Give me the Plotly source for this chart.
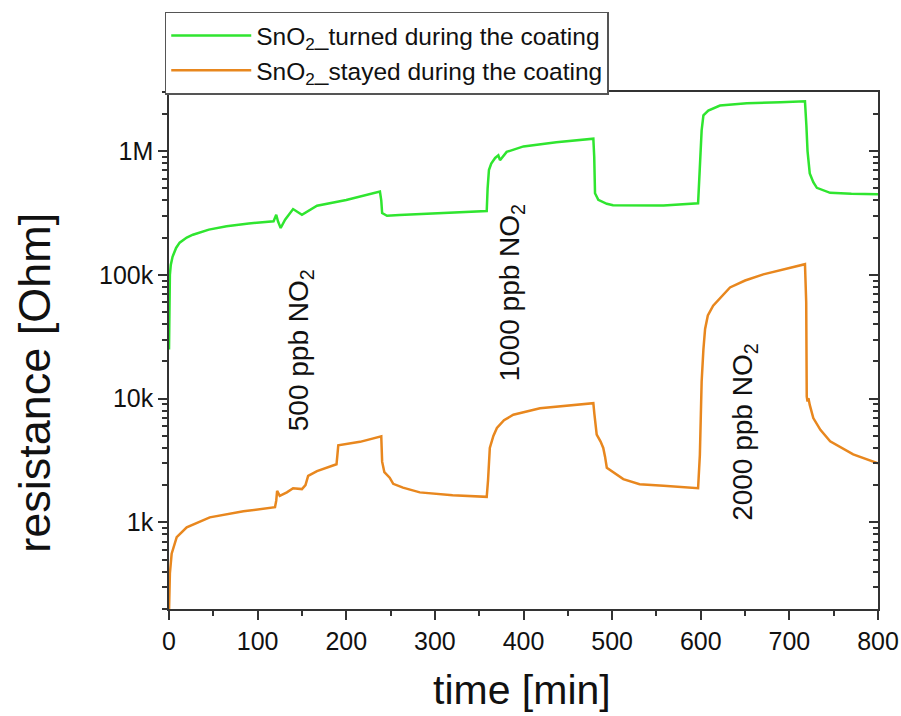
import numpy as np
import plotly.graph_objects as go

# Time axis (min) and resistance (Ohm) for the two SnO2 sensors
t_turned = [0, 0.5, 1, 2, 4, 8, 12, 20, 27, 45, 65, 90, 118, 121, 123, 126, 131, 140,
            150, 167, 200, 238, 239.5, 240.5, 246, 260, 283, 306, 330, 358.5, 359.5,
            361, 363.6, 368, 371.6, 373.5, 381, 400, 437, 478.8, 479.8, 480.7, 484.4,
            494, 501, 531, 558, 597, 599.5, 601, 603, 605, 608.5, 621.7, 652, 690,
            717.6, 719.2, 720.5, 723, 727, 731, 746, 770, 800]
r_turned = [25e3, 60e3, 100e3, 120e3, 140e3, 165e3, 182e3, 200e3, 211e3, 232e3, 247e3,
            260e3, 271e3, 306e3, 270e3, 239e3, 279e3, 340e3, 306e3, 362e3, 403e3, 471e3,
            400e3, 316e3, 300e3, 305e3, 310e3, 318e3, 322e3, 328e3, 500e3, 702e3, 794e3,
            880e3, 925e3, 844e3, 985e3, 1.09e6, 1.18e6, 1.26e6, 900e3, 456e3, 404e3,
            375e3, 365e3, 362e3, 364e3, 379e3, 900e3, 1.47e6, 1.94e6, 2.0e6, 2.12e6,
            2.33e6, 2.43e6, 2.48e6, 2.52e6, 1.6e6, 1.0e6, 660e3, 560e3, 505e3, 460e3,
            452e3, 448e3]

t_stayed = [0, 0.3, 1, 3, 8.7, 20, 46, 84, 119.6, 121, 122, 125, 133, 140, 150, 154, 157,
            167, 189, 190, 191, 215.5, 239.5, 240.5, 243, 249, 253, 264, 283, 320, 358.5,
            360, 362, 366, 370, 378, 388.5, 418.6, 450, 478.8, 480, 482.6, 487, 490, 492,
            494, 512.6, 531, 558, 597, 599, 601, 603, 604.9, 608, 614, 633, 650, 670.6,
            695, 717.6, 719, 719.6, 720.5, 721.5, 723, 727, 735, 746, 772, 798.5, 800]
r_stayed = [190, 300, 387, 560, 760, 915, 1100, 1230, 1330, 1500, 1800, 1640, 1750, 1890,
            1860, 2000, 2380, 2600, 2950, 3500, 4200, 4480, 4970, 3100, 2550, 2300, 2050,
            1910, 1750, 1660, 1610, 2200, 4000, 5000, 5800, 6700, 7410, 8380, 8800, 9190,
            7500, 5130, 4500, 4000, 3400, 2770, 2240, 2040, 1980, 1890, 3500, 13700,
            25000, 36600, 47000, 56400, 79100, 90000, 101000, 112000, 122000, 60000,
            10400, 9500, 10100, 8900, 6970, 5600, 4530, 3550, 3040, 3000]

names = ["SnO<sub>2</sub>_turned during the coating",
         "SnO<sub>2</sub>_stayed during the coating"]
colors = ["#2fe52f", "#e8871e"]

y_major = [1e3, 1e4, 1e5, 1e6]
y_major_text = ["1k", "10k", "100k", "1M"]
y_minor = [m * 10 ** k for k in range(2, 7) for m in range(2, 10)]
y_range = [np.log10(200), np.log10(3e6)]

# Concentration labels: (text, time, resistance)
gas_labels = [("500 ppb NO<sub>2</sub>", 148, 24.7e3),
              ("1000 ppb NO<sub>2</sub>", 387, 72e3),
              ("2000 ppb NO<sub>2</sub>", 650, 5.3e3)]

FONT = "Liberation Sans, Arial, sans-serif"

fig = go.Figure()
fig.add_trace(go.Scatter(x=t_turned, y=r_turned, mode="lines", name=names[0],
                         line=dict(color=colors[0], width=2.5)))
fig.add_trace(go.Scatter(x=t_stayed, y=r_stayed, mode="lines", name=names[1],
                         line=dict(color=colors[1], width=2.5)))
# carrier trace for the right-hand mirrored axis
fig.add_trace(go.Scatter(x=t_stayed, y=r_stayed, mode="lines", yaxis="y2",
                         line=dict(color="rgba(0,0,0,0)"), showlegend=False,
                         hoverinfo="skip"))

for text, tx, ry in gas_labels:
    fig.add_annotation(x=tx, y=np.log10(ry), text=text, textangle=-90,
                       showarrow=False, font=dict(family=FONT, size=28, color="#111"))

fig.add_annotation(xref="paper", yref="paper", x=0.498, y=-0.156,
                   xanchor="center", yanchor="middle", text="time [min]",
                   showarrow=False, font=dict(family=FONT, size=41, color="#111"))
fig.add_annotation(xref="paper", yref="paper", x=-0.19, y=0.438,
                   xanchor="center", yanchor="middle",
                   text="resistance [Ohm]", textangle=-90,
                   showarrow=False, font=dict(family=FONT, size=45, color="#111"))

axis_common = dict(showline=True, linecolor="#333", linewidth=1.5, showgrid=False,
                   zeroline=False, tickcolor="#333", tickwidth=1.5, automargin=False)

fig.update_layout(
    width=901, height=716,
    margin=dict(l=169, r=23, t=88, b=107),
    plot_bgcolor="white", paper_bgcolor="white",
    font=dict(family=FONT, color="#111"),
    xaxis=dict(range=[0, 800], tickmode="linear", tick0=0, dtick=100,
               ticks="outside", ticklen=9, mirror=True,
               tickfont=dict(size=25),
               minor=dict(ticks="outside", ticklen=5, dtick=50, tick0=0,
                          tickcolor="#333", tickwidth=1.5),
               **axis_common),
    yaxis=dict(type="log", range=y_range, tickmode="array", tickvals=y_major,
               ticktext=y_major_text, ticks="outside", ticklen=9,
               tickfont=dict(size=25),
               minor=dict(tickmode="array", tickvals=y_minor, ticks="outside",
                          ticklen=5, tickcolor="#333", tickwidth=1.5),
               **axis_common),
    yaxis2=dict(type="log", range=y_range, overlaying="y", side="right",
                tickmode="array", tickvals=y_major, ticks="inside", ticklen=9,
                showticklabels=False,
                minor=dict(tickmode="array", tickvals=y_minor, ticks="inside",
                           ticklen=5, tickcolor="#333", tickwidth=1.5),
                **axis_common),
    legend=dict(x=-0.006, y=0.995, xanchor="left", yanchor="bottom",
                bgcolor="white", bordercolor="#555", borderwidth=1.5,
                font=dict(family=FONT, size=24.5, color="#111"),
                itemwidth=80, tracegroupgap=2),
    showlegend=True,
)

fig.write_html("out.html")
